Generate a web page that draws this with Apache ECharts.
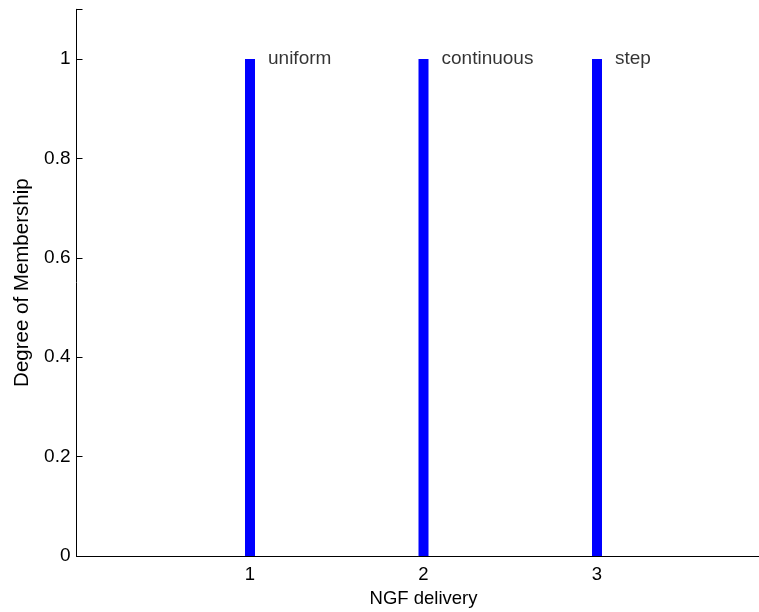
<!DOCTYPE html>
<html><head><meta charset="utf-8">
<script src="https://cdn.jsdelivr.net/npm/echarts@6/dist/echarts.min.js"></script>
<style>html,body{margin:0;padding:0;background:#fff}#c{width:759px;height:612px}</style>
</head><body><div id="c"></div>
<script>
const categories = [1, 2, 3];
const memberships = [1, 1, 1];
const labels = ['uniform', 'continuous', 'step'];
const yTicks = [0, 0.2, 0.4, 0.6, 0.8, 1];
const xTicks = [1, 2, 3];

const font = 'Liberation Sans, Arial, Helvetica, sans-serif';
const chart = echarts.init(document.getElementById('c'), null, {renderer: 'canvas'});
chart.setOption({
  animation: false,
  backgroundColor: '#fff',
  grid: {left: 76.5, width: 694, top: 9.3, height: 546.7, containLabel: false, outerBoundsMode: 'none'},
  xAxis: {
    type: 'value', min: 0, max: 4, interval: 1,
    name: 'NGF delivery', nameLocation: 'middle', nameGap: 33,
    nameTextStyle: {color: '#000', fontSize: 18.5, fontFamily: font},
    axisLine: {show: true, onZero: false, lineStyle: {color: '#000', width: 1}},
    axisTick: {show: true, inside: true, length: 6, lineStyle: {color: '#000'}},
    axisLabel: {color: '#000', fontSize: 18.5, fontFamily: font, margin: 9,
      formatter: v => xTicks.includes(v) ? String(v) : ''},
    splitLine: {show: false}
  },
  yAxis: {
    type: 'value', min: 0, max: 1.1, interval: 0.2,
    name: 'Degree of Membership', nameLocation: 'middle', nameGap: 43,
    nameTextStyle: {color: '#000', fontSize: 20.5, fontFamily: font},
    axisLine: {show: true, lineStyle: {color: '#000', width: 1}},
    axisTick: {show: true, inside: true, length: 6, lineStyle: {color: '#000'}},
    axisLabel: {color: '#000', fontSize: 19, fontFamily: font, margin: 6,
      formatter: v => yTicks.some(t => Math.abs(t - v) < 1e-9) ? String(+v.toFixed(1)) : ''},
    splitLine: {show: false}
  },
  series: [
    {
      type: 'bar', barWidth: 10,
      itemStyle: {color: '#0000ff'},
      data: categories.map((c, i) => [c, memberships[i]])
    },
    {
      type: 'scatter', symbolSize: 0,
      label: {show: true, position: 'right', distance: 18, color: '#000', fontSize: 19, fontFamily: font,
        formatter: p => labels[p.dataIndex]},
      data: categories.map((c, i) => [c, memberships[i]])
    }
  ]
});
</script></body></html>
